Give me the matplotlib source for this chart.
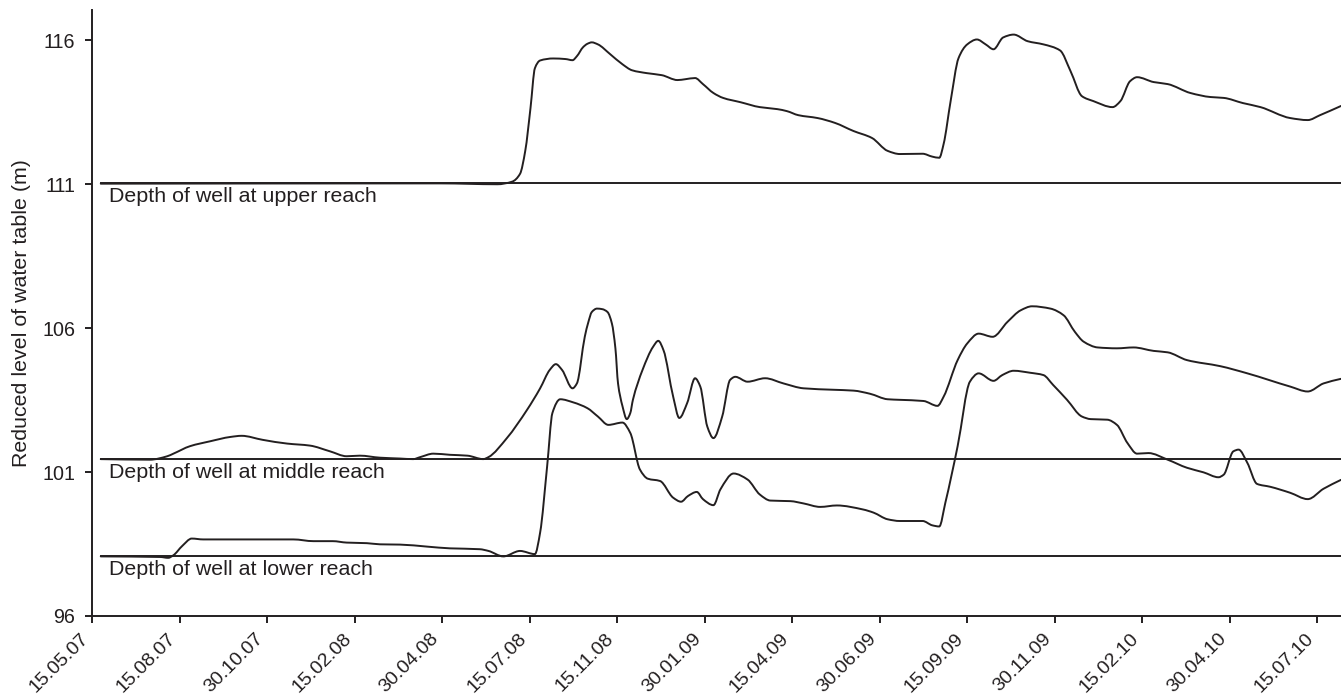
import numpy as np
import matplotlib.pyplot as plt
from matplotlib.path import Path
from matplotlib.patches import PathPatch
from matplotlib.transforms import ScaledTranslation

plt.rcParams['font.family'] = ['Liberation Sans', 'DejaVu Sans']

# sampling dates shown on the axis (evenly spaced, one slot per label)
dates = ["15.05.07", "15.08.07", "30.10.07", "15.02.08", "30.04.08",
         "15.07.08", "15.11.08", "30.01.09", "15.04.09", "30.06.09",
         "15.09.09", "30.11.09", "15.02.10", "30.04.10", "15.07.10"]

# well depths (m)
depth_upper = 111.03
depth_middle = 101.44
depth_lower = 98.07

# water table, upper reach (position in date slots, level in m)
upper_t = [0.10, 3.98, 4.63, 4.80, 4.89, 4.95, 5.01, 5.06, 5.12, 5.27,
           5.41, 5.49, 5.54, 5.61, 5.66, 5.71, 5.78, 5.92, 6.06, 6.17, 6.34,
           6.51, 6.69, 6.78, 6.89, 6.98, 7.10, 7.21, 7.41, 7.63, 7.83,
           7.94, 8.07, 8.29, 8.49, 8.70, 8.91, 9.09, 9.23, 9.49, 9.60,
           9.68, 9.73, 9.81, 9.90, 10.00, 10.11, 10.21, 10.30, 10.41, 10.53,
           10.69, 10.87, 11.06, 11.18, 11.31, 11.44, 11.66, 11.75, 11.86, 11.94,
           12.13, 12.29, 12.55, 12.78, 12.93, 13.15, 13.35, 13.69, 13.89, 14.03,
           14.27]
upper_v = [111.02, 111.03, 111.00, 111.09, 111.36, 112.16, 113.65, 115.03, 115.30, 115.37,
           115.35, 115.31, 115.45, 115.76, 115.88, 115.93, 115.86, 115.52, 115.17, 114.96, 114.86,
           114.79, 114.62, 114.65, 114.69, 114.48, 114.17, 114.00, 113.85, 113.68, 113.61,
           113.54, 113.40, 113.30, 113.13, 112.85, 112.61, 112.16, 112.05, 112.06, 111.96,
           111.92, 112.40, 113.89, 115.38, 115.86, 116.03, 115.86, 115.69, 116.10, 116.20,
           115.97, 115.86, 115.65, 114.93, 114.06, 113.89, 113.68, 113.89, 114.58, 114.72,
           114.55, 114.48, 114.17, 114.03, 114.00, 113.82, 113.68, 113.30, 113.23, 113.40,
           113.72]

# water table, middle reach
middle_t = [0.10, 0.66, 0.86, 0.93, 1.12, 1.35, 1.58, 1.71, 1.95, 2.23,
            2.49, 2.72, 2.91, 3.06, 3.29, 3.52, 3.67, 3.75, 3.90, 4.09,
            4.29, 4.47, 4.53, 4.74, 4.97, 5.12, 5.23, 5.30, 5.37, 5.49,
            5.54, 5.63, 5.67, 5.71, 5.77, 5.83, 5.89, 5.94, 5.98, 6.01, 6.06, 6.11, 6.15, 6.18, 6.29,
            6.41, 6.47, 6.53, 6.64, 6.71, 6.80, 6.89, 6.95, 7.03, 7.10,
            7.20, 7.29, 7.35, 7.49, 7.69, 7.90, 8.13, 8.47, 8.70, 8.89,
            9.09, 9.23, 9.50, 9.66, 9.73, 9.89, 10.00, 10.13, 10.29, 10.46,
            10.61, 10.74, 10.95, 11.10, 11.23, 11.33, 11.49, 11.71, 11.90, 12.13,
            12.29, 12.51, 12.89, 13.20, 13.69, 13.89, 14.07, 14.27]
middle_v = [101.45, 101.43, 101.55, 101.64, 101.90, 102.07, 102.22, 102.26, 102.12, 101.99,
            101.92, 101.72, 101.55, 101.57, 101.50, 101.47, 101.45, 101.52, 101.64, 101.60,
            101.57, 101.45, 101.52, 102.18, 103.16, 103.91, 104.55, 104.75, 104.55, 103.91,
            104.08, 105.70, 106.20, 106.56, 106.68, 106.66, 106.56, 106.16, 105.30, 104.08, 103.30, 102.84, 103.05, 103.51, 104.55,
            105.35, 105.56, 105.23, 103.62, 102.88, 103.40, 104.26, 103.97, 102.58, 102.18,
            102.93, 104.20, 104.31, 104.14, 104.26, 104.08, 103.91, 103.86, 103.83, 103.72,
            103.53, 103.51, 103.47, 103.30, 103.62, 104.89, 105.47, 105.81, 105.70, 106.22,
            106.62, 106.76, 106.68, 106.45, 105.87, 105.53, 105.33, 105.30, 105.33, 105.21,
            105.16, 104.89, 104.68, 104.43, 103.97, 103.80, 104.08, 104.24]

# water table, lower reach
lower_t = [0.10, 0.78, 0.87, 0.93, 1.03, 1.14, 1.27, 2.30, 2.53, 2.75,
           2.91, 3.14, 3.29, 3.52, 3.83, 4.09, 4.43, 4.53, 4.70, 4.89,
           5.06, 5.12, 5.20, 5.26, 5.35, 5.50, 5.66, 5.78, 5.90, 6.06,
           6.15, 6.26, 6.35, 6.49, 6.64, 6.73, 6.81, 6.91, 6.98, 7.10,
           7.18, 7.33, 7.49, 7.63, 7.75, 7.98, 8.13, 8.32, 8.51, 8.81,
           8.93, 9.09, 9.23, 9.49, 9.60, 9.68, 9.75, 9.89, 10.03, 10.13,
           10.30, 10.40, 10.53, 10.72, 10.87, 10.98, 11.14, 11.31, 11.41, 11.60,
           11.71, 11.83, 11.94, 12.07, 12.29, 12.51, 12.70, 12.87, 12.93, 13.04,
           13.10, 13.20, 13.31, 13.46, 13.69, 13.89, 14.07, 14.27]
lower_v = [98.07, 98.05, 98.02, 98.11, 98.43, 98.69, 98.66, 98.66, 98.60, 98.60,
           98.55, 98.53, 98.49, 98.48, 98.41, 98.35, 98.32, 98.26, 98.07, 98.26,
           98.15, 98.90, 101.20, 103.05, 103.53, 103.42, 103.22, 102.93, 102.64, 102.72,
           102.36, 101.09, 100.77, 100.69, 100.11, 99.97, 100.17, 100.31, 100.06, 99.85,
           100.40, 100.95, 100.74, 100.22, 100.01, 99.99, 99.91, 99.79, 99.84, 99.70,
           99.59, 99.36, 99.30, 99.30, 99.15, 99.11, 99.94, 101.90, 104.14, 104.43,
           104.17, 104.37, 104.52, 104.45, 104.37, 104.03, 103.51, 102.93, 102.84, 102.82,
           102.64, 102.01, 101.64, 101.66, 101.43, 101.15, 100.99, 100.82, 100.91, 101.72,
           101.78, 101.32, 100.59, 100.49, 100.28, 100.06, 100.42, 100.73]

x_right = 14.27
ink = '#231f20'
fs = 15.4


def smooth_path(t, v):
    # monotone cubic (pchip-style slopes) through the readings, as bezier segments
    x = np.asarray(t, float)
    y = np.asarray(v, float)
    h = np.diff(x)
    d = np.diff(y) / h
    m = np.zeros_like(x)
    m[0], m[-1] = d[0], d[-1]
    for i in range(1, len(x) - 1):
        if d[i - 1] * d[i] > 0:
            w1 = 2 * h[i] + h[i - 1]
            w2 = h[i] + 2 * h[i - 1]
            m[i] = (w1 + w2) / (w1 / d[i - 1] + w2 / d[i])
    verts = [(x[0], y[0])]
    for i in range(len(h)):
        verts += [(x[i] + h[i] / 3, y[i] + m[i] * h[i] / 3),
                  (x[i + 1] - h[i] / 3, y[i + 1] - m[i + 1] * h[i] / 3),
                  (x[i + 1], y[i + 1])]
    codes = [Path.MOVETO] + [Path.CURVE4] * (3 * len(h))
    return Path(verts, codes)


fig = plt.figure(figsize=(13.41, 6.98), dpi=100)
ax = fig.add_axes([0.0686, 0.1175, 0.9314, 0.868])

for depth, name in [(depth_upper, "upper"), (depth_middle, "middle"), (depth_lower, "lower")]:
    ax.plot([0.1, x_right], [depth, depth], color=ink, lw=1.4)
    ax.text(0.2, depth - 0.12, f"Depth of well at {name} reach",
            ha='left', va='top', fontsize=fs, color=ink)

for t, v in [(upper_t, upper_v), (middle_t, middle_v), (lower_t, lower_v)]:
    ax.add_patch(PathPatch(smooth_path(t, v), fill=False, edgecolor=ink,
                           lw=1.4, joinstyle='round', capstyle='round'))

ax.set_xlim(0, x_right)
ax.set_ylim(96, 117.05)
ax.set_yticks([96, 101, 106, 111, 116])
ax.set_xticks(range(len(dates)))
ax.set_xticklabels(dates, rotation=45, ha='right', rotation_mode='anchor')

for side in ('top', 'right'):
    ax.spines[side].set_visible(False)
for side in ('left', 'bottom'):
    ax.spines[side].set_linewidth(1.4)
    ax.spines[side].set_color(ink)
ax.tick_params(direction='out', length=5, width=1.4, colors=ink)
ax.tick_params(axis='y', labelsize=14.2, pad=7)
ax.tick_params(axis='x', labelsize=14, pad=5)

# nudge the slanted date labels left so they sit under their ticks
shift = ScaledTranslation(-0.12, 0, fig.dpi_scale_trans)
for lab in ax.get_xticklabels():
    lab.set_transform(lab.get_transform() + shift)

ax.set_ylabel("Reduced level of water table (m)", fontsize=fs, color=ink, labelpad=8)

fig.savefig("out.png", dpi=100)
